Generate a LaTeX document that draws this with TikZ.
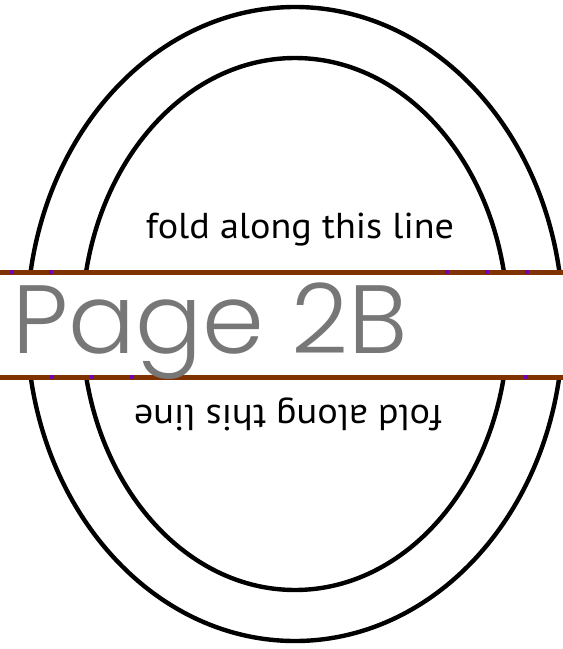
\documentclass[tikz,border=0pt]{standalone}
\usepackage{fontspec}
\setmainfont{PT Sans}
\newfontfamily\pagefont{Poppins}[UprightFont=* Light]
\definecolor{foldbrown}{RGB}{128,51,0}
\definecolor{foldmark}{RGB}{112,0,176}
\definecolor{pagegray}{RGB}{119,119,119}

\begin{document}
\begin{tikzpicture}[x=1pt,y=-1pt]
\useasboundingbox (0,0) rectangle (563,649);
\draw[line width=4.4pt] (295,324) ellipse [x radius=268, y radius=317];
\draw[line width=4.4pt] (295,324) ellipse [x radius=213, y radius=266];

\fill[white] (0,272) rectangle (563,377);
\draw[foldbrown,line width=5pt] (0,272) -- (563,272);
\draw[foldbrown,line width=5pt] (0,377) -- (563,377);
\foreach \mx in {12,51,447,487,527}
  \fill[foldmark] (\mx-2,270) rectangle (\mx+2,274);
\foreach \mx in {52,92,132,526}
  \fill[foldmark] (\mx-2,375) rectangle (\mx+2,379);

\node[anchor=base west,inner sep=0pt,xscale=1.025,text=pagegray,font=\pagefont\fontsize{97}{97}\selectfont] (pagename) at (12,353) {Page 2B};

\node[anchor=base,inner sep=0pt,xscale=1.06,font=\fontsize{36}{36}\selectfont] (foldtop) at (300,238) {fold along this line};
\node[anchor=base,inner sep=0pt,rotate=180,xscale=1.06,font=\fontsize{36}{36}\selectfont] (foldbottom) at (288,405) {fold along this line};
\end{tikzpicture}
\end{document}
